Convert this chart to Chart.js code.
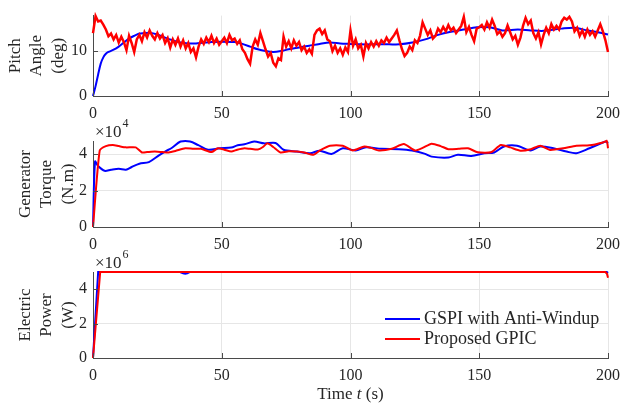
<!DOCTYPE html>
<html><head><meta charset="utf-8">
<script src="https://cdn.jsdelivr.net/npm/chart.js@4.4.1/dist/chart.umd.min.js"></script>
<style>
html,body{margin:0;padding:0;background:#fff;}
#wrap{position:relative;width:628px;height:405px;overflow:hidden;background:#fff;}
canvas{position:absolute;left:0;}
</style></head><body>
<div id="wrap">
<canvas id="c1" width="628" height="125" style="top:0px"></canvas>
<canvas id="c2" width="628" height="140" style="top:115px"></canvas>
<canvas id="c3" width="628" height="160" style="top:245px"></canvas>
</div>
<script>
// ---------------- DATA ----------------
const seriesNames = ['GSPI with Anti-Windup', 'Proposed GPIC'];
const xTicks = [0, 50, 100, 150, 200];
const pitchYTicks = [0, 10];
const torqueYTicks = [0, 2, 4];   // x 10^4 N.m
const powerYTicks = [0, 2, 4];    // x 10^6 W

// Pitch angle (deg) - Proposed GPIC, sampled every 1 s from t = 0 to 200
const pitchRed = [
 14.0,17.8,16.6,16.8,15.9,14.8,13.3,13.9,12.6,13.6,11.9,13.2,12.0,10.2,13.4,11.8,9.8,12.6,13.6,12.2,
 14.2,13.0,14.6,13.4,12.6,14.0,12.8,13.6,11.8,12.9,10.8,12.6,11.4,12.8,11.0,12.4,10.6,11.8,9.8,10.6,
 8.6,11.0,12.6,11.6,13.0,12.0,13.4,11.8,12.8,11.4,12.2,13.0,11.8,13.6,12.4,12.8,11.6,12.4,10.4,9.6,
 8.2,7.2,11.0,12.6,11.4,14.0,12.2,10.4,8.8,9.6,7.4,6.6,8.4,8.0,13.2,11.0,12.2,10.6,12.4,11.2,
 12.0,10.2,11.0,9.6,10.4,9.4,13.6,14.6,15.0,13.8,14.6,12.6,12.2,10.0,11.2,9.6,10.6,9.2,10.8,9.8,
 14.6,11.2,12.6,10.6,11.4,8.8,11.8,10.6,12.0,11.0,12.2,11.2,12.4,11.8,13.0,12.0,12.8,13.6,14.6,12.4,
 10.4,8.9,9.6,11.0,10.2,12.4,11.8,13.4,16.4,15.0,13.6,14.6,12.8,13.4,15.0,14.2,15.4,14.4,15.8,14.6,
 15.2,14.0,14.8,15.6,17.6,14.2,15.4,13.6,12.2,15.0,15.3,15.8,14.8,16.4,15.2,17.0,15.6,13.8,14.4,13.2,
 14.0,15.7,14.2,12.6,13.4,11.4,13.0,15.6,17.4,16.0,16.8,14.0,12.8,14.2,11.5,13.6,15.2,14.0,16.0,14.8,
 15.6,14.8,16.6,17.4,17.0,17.6,16.6,14.4,15.2,13.4,14.6,13.2,14.8,13.6,14.4,13.2,14.6,16.0,14.4,12.4,
 9.8
];
const pitchRedTime = pitchRed.map((_, i) => i);

// Pitch angle (deg) - GSPI with Anti-Windup
const pitchBlueTime = [0,1,2,3,4,5,6,8,10,12,14,16,18,20,22,25,28,31,34,37,40,43,46,50,55,58,61,64,67,70,73,76,80,84,88,92,96,100,104,110,115,119,124,129,134,139,144,149,154,159,165,170,175,182,187,192,196,200];
const pitchBlue     = [0,2.2,4.8,7.2,8.6,9.4,9.8,10.3,11.0,11.9,12.8,13.4,13.9,14.0,14.1,13.7,13.0,12.4,11.9,11.7,11.7,11.9,12.0,12.1,12.0,11.6,11.0,10.4,10.0,9.8,10.0,10.4,10.8,11.2,11.6,11.9,11.7,11.6,11.5,11.5,11.5,11.5,11.9,12.6,13.6,14.3,14.8,15.3,15.3,14.6,14.8,14.6,14.5,15.0,15.2,14.6,14.2,13.7];

// Generator torque (x 10^4 N.m)
const torqueRedTime = [0,2.6,5,7.7,10,12.8,16.6,19,21,24,27,29.4,32,35.8,39,42,46,48.5,51,53.7,56,58.8,61,64,66,67.7,70,72.8,76,79.2,82,85.6,88,92,97,100.9,105.4,108,111,116,120.7,125,128,131.5,135,138,142,145.6,149.4,154.5,158.4,162,166,170,173.7,177.5,182.6,187.7,192.8,198,199.5,200];
const torqueRed     = [0,4.2,4.45,4.51,4.45,4.38,4.38,4.1,4.12,4.15,4.12,4.1,4.18,4.33,4.3,4.3,4.12,4.33,4.25,4.15,4.25,4.33,4.3,4.26,4.4,4.6,4.4,4.1,4.16,4.15,4.1,3.97,4.2,4.47,4.47,4.21,4.43,4.35,4.21,4.3,4.56,4.21,4.35,4.58,4.45,4.28,4.3,4.33,4.11,4.11,4.51,4.38,4.2,4.28,4.47,4.24,4.33,4.47,4.49,4.65,4.74,4.33];
const torqueBlueTime = [0,0.8,2,4.5,7,10,12.8,15,18,21.7,25.6,28,30.7,34,37.7,40.9,44.7,49.2,53.7,56.2,58.8,62.6,66.4,70.9,74,79.2,84.3,88,92.6,97,102,106,112,118.8,123.9,129,131.5,138,141.7,146.9,152,155.8,159.6,164.7,170,173.7,178.8,183.9,187.7,192.8,199.2,200];
const torqueBlue     = [0,3.6,3.35,3.09,3.15,3.2,3.15,3.3,3.48,3.57,3.94,4.15,4.36,4.7,4.7,4.5,4.25,4.33,4.37,4.5,4.55,4.7,4.6,4.62,4.25,4.15,4.05,4.2,4.02,4.33,4.21,4.38,4.3,4.28,4.21,4.02,3.87,3.82,3.97,3.91,4.06,4.1,4.43,4.47,4.21,4.43,4.33,4.15,4.06,4.33,4.7,4.6];

// Electric power (x 10^6 W)
const powerRedTime  = [0,2.8,199,199.6,200];
const powerRed      = [0,5.0,5.0,4.9,4.66];
const powerBlueTime = [0,2,33.8,35,35.8,36.6,37.5,199.5,200];
const powerBlue     = [0,5.0,5.0,4.93,4.9,4.93,5.0,5.0,4.95];

// ---------------- DRAWING ----------------
const FONT = "'Liberation Serif', 'Times New Roman', serif";
const BLUE = '#0000ff', RED = '#ff0000';
const TEXT = '#262626', AXIS = '#4a4a4a', GRID = '#e6e6e6';

function pts(t, v) { return t.map((x, i) => ({ x: x, y: v[i] })); }

const extras = {
  id: 'extras',
  afterDraw(chart, args, o) {
    const ctx = chart.ctx, a = chart.chartArea;
    const xs = chart.scales.x, ys = chart.scales.y;
    ctx.save();
    // inward tick marks
    ctx.strokeStyle = AXIS; ctx.lineWidth = 1;
    ctx.beginPath();
    xs.ticks.forEach(t => { const px = Math.round(xs.getPixelForValue(t.value)) + 0.5; ctx.moveTo(px, a.bottom); ctx.lineTo(px, a.bottom - 5); });
    ys.ticks.forEach(t => { const py = Math.round(ys.getPixelForValue(t.value)) + 0.5; ctx.moveTo(a.left, py); ctx.lineTo(a.left + 5, py); });
    ctx.stroke();
    ctx.fillStyle = TEXT;
    // exponent label
    if (o.exp) {
      ctx.font = '17px ' + FONT; ctx.textBaseline = 'alphabetic'; ctx.textAlign = 'left';
      ctx.fillText('\u00d710', a.left + 2, a.top - 4);
      const w = ctx.measureText('\u00d710').width;
      ctx.font = '12px ' + FONT;
      ctx.fillText(o.exp, a.left + 3 + w, a.top - 14);
    }
    // x-axis title with italic t
    if (o.xTitle) {
      const parts = [['Time ', '17px ' + FONT], ['t', 'italic 17px ' + FONT], [' (s)', '17px ' + FONT]];
      let total = 0;
      parts.forEach(p => { ctx.font = p[1]; total += ctx.measureText(p[0]).width; });
      let x = (a.left + a.right) / 2 - total / 2;
      ctx.textBaseline = 'alphabetic'; ctx.textAlign = 'left';
      parts.forEach(p => { ctx.font = p[1]; ctx.fillText(p[0], x, a.bottom + 41); x += ctx.measureText(p[0]).width; });
    }
    // legend
    if (o.legend) {
      const items = chart.data.datasets.slice().sort((p, q) => p.legendIndex - q.legendIndex);
      ctx.font = '18px ' + FONT; ctx.textBaseline = 'middle'; ctx.textAlign = 'left';
      items.forEach((d, i) => {
        const y = a.top + 47 + i * 20;
        ctx.strokeStyle = d.borderColor; ctx.lineWidth = 2;
        ctx.beginPath(); ctx.moveTo(385, y); ctx.lineTo(420, y); ctx.stroke();
        ctx.fillStyle = TEXT;
        ctx.fillText(d.label, 424, y);
      });
    }
    ctx.restore();
  }
};

function makeChart(id, p) {
  return new Chart(document.getElementById(id), {
    type: 'line',
    data: {
      datasets: [
        { label: seriesNames[0], legendIndex: 0, data: pts(p.blueT, p.blue), borderColor: BLUE, borderWidth: 2, pointRadius: 0, tension: p.blueTension, order: 1, clip: 4 },
        { label: seriesNames[1], legendIndex: 1, data: pts(p.redT, p.red), borderColor: RED, borderWidth: p.redWidth, pointRadius: 0, tension: p.redTension, order: 0, clip: 4 }
      ]
    },
    options: {
      responsive: false, animation: false, devicePixelRatio: 1,
      layout: { padding: { top: p.padTop, left: 0, right: 13, bottom: 0 } },
      plugins: { legend: { display: false }, tooltip: { enabled: false },
        extras: { exp: p.exp, xTitle: p.xTitle, legend: p.legend } },
      scales: {
        x: {
          type: 'linear', min: 0, max: 200,
          afterBuildTicks: s => { s.ticks = xTicks.map(v => ({ value: v })); },
          afterFit: s => { s.height = p.xH; },
          grid: { color: GRID, drawTicks: false },
          border: { display: true, color: AXIS, width: 1 },
          ticks: { color: TEXT, font: { family: FONT, size: 16 }, padding: 8, maxRotation: 0 }
        },
        y: {
          type: 'linear', min: 0, max: p.yMax,
          afterBuildTicks: s => { s.ticks = p.yTicks.map(v => ({ value: v })); },
          afterFit: s => { s.width = 93; },
          grid: { color: GRID, drawTicks: false },
          border: { display: true, color: AXIS, width: 1 },
          ticks: { color: TEXT, font: { family: FONT, size: 16 }, padding: 6 },
          title: { display: true, text: p.title, color: TEXT, font: { family: FONT, size: 17, lineHeight: 1.25 }, padding: { top: p.titlePad, bottom: 0 } }
        }
      }
    },
    plugins: [extras]
  });
}

makeChart('c1', { blueT: pitchBlueTime, blue: pitchBlue, redT: pitchRedTime, red: pitchRed, blueTension: 0.3, redTension: 0, redWidth: 2.5,
  padTop: 9, xH: 29, yMax: 17.9, yTicks: pitchYTicks, title: ['Pitch', 'Angle', '(deg)'], titlePad: 5 });
makeChart('c2', { blueT: torqueBlueTime, blue: torqueBlue, redT: torqueRedTime, red: torqueRed, blueTension: 0.3, redTension: 0.2, redWidth: 2,
  padTop: 26, xH: 28, yMax: 4.73, yTicks: torqueYTicks, title: ['Generator', 'Torque', '(N.m)'], titlePad: 15, exp: '4' });
makeChart('c3', { blueT: powerBlueTime, blue: powerBlue, redT: powerRedTime, red: powerRed, blueTension: 0, redTension: 0, redWidth: 2,
  padTop: 27, xH: 47, yMax: 5.0, yTicks: powerYTicks, title: ['Electric', 'Power', '(W)'], titlePad: 15, exp: '6', xTitle: true, legend: true });
</script>
</body></html>
